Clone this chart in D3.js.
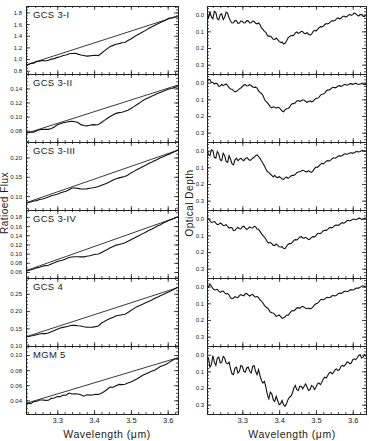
<!DOCTYPE html>
<html><head><meta charset="utf-8">
<script src="https://cdn.jsdelivr.net/npm/d3@7"></script>
<style>body{margin:0;background:#fff}svg{display:block}text{font-family:"Liberation Sans",Arial,sans-serif;fill:#1a1a1a}</style>
</head><body>
<svg id="c" width="369" height="441"></svg>
<script>
// ---------------- DATA ----------------
const sources = ["GCS 3-I","GCS 3-II","GCS 3-III","GCS 3-IV","GCS 4","MGM 5"];
const wavelength = [3.204,3.212,3.220,3.228,3.236,3.244,3.252,3.260,3.268,3.276,3.284,3.292,3.300,3.308,3.316,3.324,3.332,3.340,3.348,3.356,3.364,3.372,3.380,3.388,3.396,3.404,3.412,3.420,3.428,3.436,3.444,3.452,3.460,3.468,3.476,3.484,3.492,3.500,3.508,3.516,3.524,3.532,3.540,3.548,3.556,3.564,3.572,3.580,3.588,3.596,3.604,3.612,3.620,3.628,3.636];
const wavelengthTau = [3.204,3.208,3.212,3.216,3.220,3.224,3.228,3.232,3.236,3.240,3.244,3.248,3.252,3.256,3.260,3.264,3.268,3.272,3.276,3.280,3.284,3.288,3.292,3.296,3.300,3.304,3.308,3.312,3.316,3.320,3.324,3.328,3.332,3.336,3.340,3.344,3.348,3.352,3.356,3.360,3.364,3.368,3.372,3.376,3.380,3.384,3.388,3.392,3.396,3.400,3.404,3.408,3.412,3.416,3.420,3.424,3.428,3.432,3.436,3.440,3.444,3.448,3.452,3.456,3.460,3.464,3.468,3.472,3.476,3.480,3.484,3.488,3.492,3.496,3.500,3.504,3.508,3.512,3.516,3.520,3.524,3.528,3.532,3.536,3.540,3.544,3.548,3.552,3.556,3.560,3.564,3.568,3.572,3.576,3.580,3.584,3.588,3.592,3.596,3.600,3.604,3.608,3.612,3.616,3.620,3.624,3.628,3.632,3.636];

const flux_GCS3I = [0.878,0.90,0.90,0.925,0.93,0.96,0.965,0.975,0.968,0.979,0.999,1.008,1.029,1.041,1.062,1.071,1.090,1.096,1.100,1.085,1.07,1.06,1.05,1.055,1.06,1.065,1.06,1.10,1.14,1.18,1.215,1.235,1.255,1.265,1.28,1.283,1.317,1.345,1.378,1.41,1.436,1.465,1.492,1.523,1.549,1.575,1.602,1.626,1.648,1.675,1.705,1.707,1.72,1.726,1.749];
const flux_GCS3II = [0.0742,0.0766,0.0772,0.0778,0.0779,0.0798,0.0813,0.0817,0.0818,0.0818,0.0831,0.0852,0.0882,0.0899,0.0912,0.0920,0.0929,0.0933,0.0927,0.0916,0.0885,0.0872,0.0868,0.0875,0.0885,0.0882,0.0886,0.0915,0.0945,0.0975,0.1000,0.1025,0.1045,0.1056,0.1061,0.1074,0.1091,0.1114,0.1141,0.1168,0.1195,0.1226,0.1250,0.1269,0.1288,0.1308,0.1327,0.1343,0.1360,0.1376,0.1394,0.1399,0.1418,0.1426,0.1441];
const flux_GCS3III = [0.0792,0.0810,0.0828,0.0845,0.0871,0.0883,0.0913,0.0925,0.0949,0.0975,0.1010,0.1029,0.1050,0.1080,0.1107,0.1124,0.1166,0.1209,0.1211,0.1200,0.1182,0.1182,0.1187,0.1204,0.1214,0.1230,0.1247,0.1282,0.1307,0.1340,0.1376,0.1414,0.1451,0.1471,0.1491,0.1509,0.1545,0.1600,0.1640,0.1684,0.1722,0.1760,0.1798,0.1841,0.1876,0.1917,0.1950,0.1992,0.2021,0.2055,0.2086,0.2124,0.2155,0.2190,0.2212];
const flux_GCS3IV = [0.0594,0.0615,0.0630,0.0651,0.0666,0.0691,0.0705,0.0725,0.0739,0.0749,0.0776,0.0800,0.0829,0.0846,0.0863,0.0891,0.0917,0.0927,0.0931,0.0932,0.0929,0.0930,0.0943,0.0956,0.0972,0.0986,0.0992,0.1027,0.1060,0.1092,0.1126,0.1157,0.1186,0.1201,0.1215,0.1235,0.1268,0.1301,0.1334,0.1369,0.1401,0.1436,0.1468,0.1503,0.1533,0.1565,0.1600,0.1631,0.1667,0.1696,0.1725,0.1751,0.1778,0.1800,0.1827];
const flux_GCS4 = [0.1225,0.1266,0.1258,0.1278,0.1295,0.1316,0.1335,0.1353,0.1348,0.1367,0.1404,0.1438,0.1473,0.1508,0.1529,0.1549,0.1570,0.1589,0.1586,0.1576,0.1570,0.1545,0.1535,0.1530,0.1535,0.1550,0.1570,0.1653,0.1696,0.1746,0.1788,0.1824,0.1863,0.1878,0.1893,0.1908,0.1961,0.2016,0.2071,0.2122,0.2160,0.2199,0.2238,0.2276,0.2313,0.2363,0.2401,0.2446,0.2479,0.2519,0.2558,0.2599,0.2648,0.2691,0.2724];
const flux_MGM5 = [0.0334,0.0332,0.0363,0.0357,0.0383,0.0387,0.0404,0.0405,0.0400,0.0401,0.0426,0.0430,0.0450,0.0449,0.0469,0.0468,0.0496,0.0484,0.0487,0.0483,0.0473,0.0455,0.0474,0.0469,0.0470,0.0481,0.0478,0.0494,0.0518,0.0546,0.0575,0.0573,0.0592,0.0611,0.0608,0.0614,0.0630,0.0643,0.0663,0.0683,0.0707,0.0731,0.0749,0.0767,0.0786,0.0800,0.0823,0.0847,0.0862,0.0878,0.0903,0.0928,0.0948,0.0955,0.0962];

const tau_GCS3I = [0.00,0.02,-0.02,0.015,0.025,-0.02,-0.012,0.025,0.03,0.0,-0.005,0.03,0.015,-0.015,-0.01,0.02,0.038,0.05,0.048,0.035,0.036,0.052,0.05,0.038,0.04,0.05,0.048,0.036,0.037,0.05,0.049,0.038,0.04,0.052,0.055,0.05,0.06,0.08,0.088,0.1,0.106,0.125,0.13,0.128,0.136,0.148,0.149,0.14,0.15,0.16,0.166,0.165,0.176,0.172,0.158,0.14,0.132,0.125,0.127,0.122,0.109,0.104,0.112,0.109,0.1,0.102,0.111,0.114,0.107,0.118,0.123,0.117,0.102,0.094,0.098,0.09,0.079,0.072,0.073,0.07,0.059,0.053,0.056,0.051,0.042,0.036,0.038,0.034,0.025,0.02,0.025,0.022,0.012,0.008,0.013,0.012,0.003,-0.002,0.004,0.0,-0.01,-0.006,0.003,0.008,0.0,0.0,0.01,0.012,0.002];
const tau_GCS3II = [0.0,-0.02,-0.018,0.0,-0.002,0.008,0.003,0.006,0.022,0.02,0.01,0.018,0.013,0.008,0.018,0.03,0.038,0.04,0.048,0.055,0.052,0.045,0.037,0.032,0.023,0.014,0.012,0.02,0.018,0.012,0.017,0.026,0.028,0.027,0.033,0.048,0.058,0.065,0.077,0.098,0.113,0.12,0.132,0.145,0.151,0.145,0.147,0.153,0.148,0.15,0.159,0.17,0.175,0.163,0.157,0.155,0.148,0.133,0.125,0.126,0.121,0.11,0.107,0.112,0.108,0.103,0.105,0.113,0.118,0.112,0.11,0.115,0.111,0.102,0.095,0.094,0.088,0.076,0.069,0.068,0.063,0.05,0.043,0.044,0.038,0.03,0.028,0.031,0.027,0.02,0.018,0.022,0.018,0.013,0.011,0.015,0.012,0.007,0.006,0.01,0.006,0.003,0.008,0.011,0.008,0.005,0.008,0.012,0.01];
const tau_GCS3III = [-0.015,0.025,0.03,-0.005,0.0,0.04,0.045,0.005,0.02,0.055,0.06,0.015,0.03,0.065,0.07,0.03,0.05,0.08,0.085,0.055,0.045,0.06,0.052,0.045,0.055,0.06,0.048,0.042,0.05,0.058,0.055,0.045,0.04,0.03,0.025,0.035,0.045,0.062,0.075,0.092,0.11,0.125,0.13,0.14,0.148,0.158,0.148,0.158,0.163,0.155,0.162,0.17,0.172,0.163,0.158,0.166,0.16,0.152,0.148,0.148,0.142,0.132,0.128,0.127,0.122,0.118,0.12,0.126,0.127,0.12,0.126,0.13,0.122,0.108,0.098,0.1,0.092,0.082,0.076,0.079,0.072,0.063,0.06,0.062,0.057,0.048,0.043,0.045,0.041,0.034,0.03,0.033,0.029,0.022,0.019,0.021,0.019,0.014,0.013,0.016,0.013,0.007,0.005,0.008,0.005,0.0,-0.001,0.004,0.003];
const tau_GCS3IV = [0.008,0.0,0.014,0.022,0.02,0.016,0.027,0.036,0.033,0.026,0.032,0.042,0.04,0.036,0.047,0.056,0.053,0.055,0.072,0.07,0.06,0.052,0.06,0.062,0.048,0.045,0.057,0.065,0.058,0.05,0.054,0.056,0.046,0.048,0.062,0.064,0.076,0.09,0.102,0.11,0.123,0.14,0.147,0.142,0.15,0.16,0.16,0.152,0.16,0.168,0.17,0.168,0.178,0.18,0.167,0.155,0.15,0.15,0.142,0.13,0.126,0.127,0.12,0.11,0.108,0.116,0.117,0.112,0.118,0.126,0.122,0.112,0.108,0.109,0.102,0.09,0.088,0.09,0.082,0.072,0.07,0.07,0.064,0.055,0.053,0.054,0.048,0.04,0.038,0.04,0.036,0.027,0.024,0.027,0.022,0.013,0.01,0.014,0.01,0.003,0.002,0.006,0.004,-0.003,-0.002,0.004,0.002,-0.002,-0.003];
const tau_GCS4 = [-0.006,0.002,-0.016,-0.004,0.012,0.02,0.018,0.016,0.027,0.034,0.028,0.026,0.037,0.045,0.04,0.05,0.067,0.072,0.068,0.06,0.064,0.066,0.054,0.048,0.052,0.055,0.043,0.04,0.05,0.056,0.05,0.046,0.057,0.063,0.058,0.066,0.08,0.087,0.098,0.112,0.122,0.128,0.138,0.152,0.157,0.158,0.166,0.178,0.174,0.17,0.178,0.19,0.187,0.182,0.17,0.172,0.162,0.15,0.143,0.145,0.137,0.128,0.126,0.13,0.122,0.118,0.123,0.13,0.132,0.128,0.133,0.13,0.122,0.11,0.103,0.1,0.092,0.08,0.076,0.078,0.074,0.066,0.064,0.066,0.062,0.055,0.053,0.056,0.052,0.042,0.038,0.04,0.037,0.029,0.026,0.03,0.027,0.02,0.018,0.02,0.017,0.01,0.008,0.009,0.004,-0.003,-0.005,-0.001,-0.004];
const tau_MGM5 = [0.03,0.02,0.075,0.06,0.005,0.045,0.065,0.02,0.015,0.05,0.045,0.01,0.02,0.05,0.055,0.045,0.085,0.115,0.12,0.08,0.075,0.11,0.1,0.065,0.07,0.1,0.105,0.08,0.075,0.1,0.11,0.07,0.065,0.1,0.12,0.09,0.125,0.155,0.17,0.16,0.195,0.24,0.265,0.225,0.235,0.27,0.28,0.25,0.275,0.3,0.295,0.275,0.3,0.31,0.295,0.27,0.255,0.25,0.23,0.2,0.185,0.21,0.215,0.19,0.19,0.205,0.19,0.175,0.195,0.215,0.21,0.185,0.19,0.21,0.195,0.175,0.17,0.18,0.165,0.145,0.135,0.14,0.125,0.11,0.105,0.115,0.105,0.09,0.085,0.095,0.09,0.07,0.065,0.07,0.06,0.045,0.045,0.055,0.05,0.03,0.025,0.03,0.02,0.005,0.0,0.02,0.015,0.0,0.01];

// continuum (straight line) end points
const continuumWave = [3.215, 3.628];
const cont_GCS3I = [0.90, 1.74];
const cont_GCS3II = [0.076, 0.1448];
const cont_GCS3III = [0.0828, 0.219];
const cont_GCS3IV = [0.063, 0.180];
const cont_GCS4 = [0.1256, 0.268];
const cont_MGM5 = [0.036, 0.0965];

// tick labels
const xTicks = [3.3, 3.4, 3.5, 3.6];
const fluxTicks_GCS3I = [0.8, 1.0, 1.2, 1.4, 1.6, 1.8];
const fluxTicks_GCS3II = [0.08, 0.10, 0.12, 0.14];
const fluxTicks_GCS3III = [0.10, 0.15, 0.20];
const fluxTicks_GCS3IV = [0.06, 0.08, 0.10, 0.12, 0.14, 0.16, 0.18];
const fluxTicks_GCS4 = [0.10, 0.15, 0.20, 0.25];
const fluxTicks_MGM5 = [0.04, 0.06, 0.08, 0.10];
const tauTicks = [0.0, 0.1, 0.2, 0.3];

// ---------------- LAYOUT ----------------
const fluxSeries = [flux_GCS3I, flux_GCS3II, flux_GCS3III, flux_GCS3IV, flux_GCS4, flux_MGM5];
const tauSeries = [tau_GCS3I, tau_GCS3II, tau_GCS3III, tau_GCS3IV, tau_GCS4, tau_MGM5];
const contSeries = [cont_GCS3I, cont_GCS3II, cont_GCS3III, cont_GCS3IV, cont_GCS4, cont_MGM5];
const fluxTicks = [fluxTicks_GCS3I, fluxTicks_GCS3II, fluxTicks_GCS3III, fluxTicks_GCS3IV, fluxTicks_GCS4, fluxTicks_MGM5];
const fluxDomains = [[0.744,1.91],[0.0638,0.1605],[0.064,0.24],[0.047,0.195],[0.099,0.2956],[0.0219,0.112]];
const fluxMinorStep = [0.05, 0.005, 0.01, 0.01, 0.01, 0.005];
const fluxFmt = [".1f", ".2f", ".2f", ".2f", ".2f", ".2f"];

const L = {x0: 26, x1: 178}, R = {x0: 207, x1: 366};
const top0 = 6, ph = 68;
const svg = d3.select("#c");
const xL = d3.scaleLinear().domain([3.215, 3.628]).range([L.x0, L.x1]);
const xR = d3.scaleLinear().domain([3.204, 3.636]).range([R.x0, R.x1]);
const xMinor = d3.range(3.22, 3.64, 0.02).map(v => +v.toFixed(2));
const tauMinor = d3.range(-0.04, 0.36, 0.02).map(v => +v.toFixed(2));

function rangeMinor(dom, step) {
  const a = Math.ceil(dom[0] / step - 1e-6), b = Math.floor(dom[1] / step + 1e-6);
  return d3.range(a, b + 1).map(k => +(k * step).toFixed(4));
}

const defs = svg.append("defs");

function frame(g, x, y, majY, minY, fmtY, showX, x0, x1, y0, y1, yPad) {
  const tk = 4, mk = 2;
  g.append("g").attr("transform", `translate(0,${y1})`)
    .call(d3.axisBottom(x).tickValues(xMinor).tickSize(-mk).tickSizeOuter(0).tickFormat(""));
  g.append("g").attr("transform", `translate(0,${y1})`).attr("class","xb")
    .call(d3.axisBottom(x).tickValues(xTicks).tickSize(-tk).tickSizeOuter(0).tickPadding(4)
      .tickFormat(showX ? d3.format(".1f") : ""));
  g.append("g").attr("transform", `translate(0,${y0})`)
    .call(d3.axisTop(x).tickValues(xMinor).tickSize(-mk).tickSizeOuter(0).tickFormat(""));
  g.append("g").attr("transform", `translate(0,${y0})`)
    .call(d3.axisTop(x).tickValues(xTicks).tickSize(-tk).tickSizeOuter(0).tickFormat(""));
  g.append("g").attr("transform", `translate(${x0},0)`)
    .call(d3.axisLeft(y).tickValues(minY).tickSize(-mk).tickSizeOuter(0).tickFormat(""));
  g.append("g").attr("transform", `translate(${x0},0)`).attr("class","yl")
    .call(d3.axisLeft(y).tickValues(majY).tickSize(-tk).tickSizeOuter(0).tickPadding(yPad).tickFormat(d3.format(fmtY)));
  g.append("g").attr("transform", `translate(${x1},0)`)
    .call(d3.axisRight(y).tickValues(minY).tickSize(-mk).tickSizeOuter(0).tickFormat(""));
  g.append("g").attr("transform", `translate(${x1},0)`)
    .call(d3.axisRight(y).tickValues(majY).tickSize(-tk).tickSizeOuter(0).tickFormat(""));
}

for (let k = 0; k < 6; k++) {
  const y0 = top0 + k * ph, y1 = y0 + ph;
  const last = k === 5;

  // ---- left: ratioed flux ----
  const yF = d3.scaleLinear().domain(fluxDomains[k]).range([y1, y0]);
  const cidL = "clipL" + k;
  defs.append("clipPath").attr("id", cidL).append("rect")
    .attr("x", L.x0).attr("y", y0).attr("width", L.x1 - L.x0).attr("height", ph);
  const gL = svg.append("g");
  const plotL = gL.append("g").attr("clip-path", `url(#${cidL})`);
  plotL.append("path")
    .datum(continuumWave.map((w, i) => [w, contSeries[k][i]]))
    .attr("fill", "none").attr("stroke", "#222").attr("stroke-width", 0.9)
    .attr("d", d3.line().x(d => xL(d[0])).y(d => yF(d[1])));
  plotL.append("path")
    .datum(wavelength.map((w, i) => [w, fluxSeries[k][i]]))
    .attr("fill", "none").attr("stroke", "#111").attr("stroke-width", 1.1)
    .attr("d", d3.line().x(d => xL(d[0])).y(d => yF(d[1])));
  frame(gL, xL, yF, fluxTicks[k], rangeMinor(fluxDomains[k], fluxMinorStep[k]), fluxFmt[k], last, L.x0, L.x1, y0, y1, 4);
  gL.append("text").attr("x", 33).attr("y", y0 + 12).attr("font-size", 9.5)
    .attr("letter-spacing", 0.3).text(sources[k]);

  // ---- right: optical depth ----
  const yT = d3.scaleLinear().domain([-0.052, 0.356]).range([y0, y1]);
  const cidR = "clipR" + k;
  defs.append("clipPath").attr("id", cidR).append("rect")
    .attr("x", R.x0).attr("y", y0).attr("width", R.x1 - R.x0).attr("height", ph);
  const gR = svg.append("g");
  gR.append("g").attr("clip-path", `url(#${cidR})`).append("path")
    .datum(wavelengthTau.map((w, i) => [w, tauSeries[k][i]]))
    .attr("fill", "none").attr("stroke", "#111").attr("stroke-width", 1.1)
    .attr("d", d3.line().x(d => xR(d[0])).y(d => yT(d[1])));
  frame(gR, xR, yT, tauTicks, tauMinor, ".1f", last, R.x0, R.x1, y0, y1, 3);
}

svg.selectAll(".domain").attr("stroke", "#222").attr("stroke-width", 1);
svg.selectAll(".tick line").attr("stroke", "#222").attr("stroke-width", 0.8);
svg.selectAll(".tick text").attr("font-family", '"Liberation Sans",Arial,sans-serif').attr("font-size", 6).attr("fill", "#222");
svg.selectAll(".xb .tick text").attr("font-size", 7.5);

// axis titles
svg.append("text").attr("transform", "translate(7.5,203) rotate(-90)").attr("text-anchor", "middle")
  .attr("font-size", 10).attr("letter-spacing", 0.5).text("Ratioed Flux");
svg.append("text").attr("transform", "translate(192.5,203) rotate(-90)").attr("text-anchor", "middle")
  .attr("font-size", 10).attr("letter-spacing", 0.5).text("Optical Depth");
svg.append("text").attr("x", 107).attr("y", 438).attr("text-anchor", "middle")
  .attr("font-size", 10.5).attr("letter-spacing", 0.5).text("Wavelength (\u03bcm)");
svg.append("text").attr("x", 292).attr("y", 438).attr("text-anchor", "middle")
  .attr("font-size", 10.5).attr("letter-spacing", 0.5).text("Wavelength (\u03bcm)");
</script>
</body></html>
